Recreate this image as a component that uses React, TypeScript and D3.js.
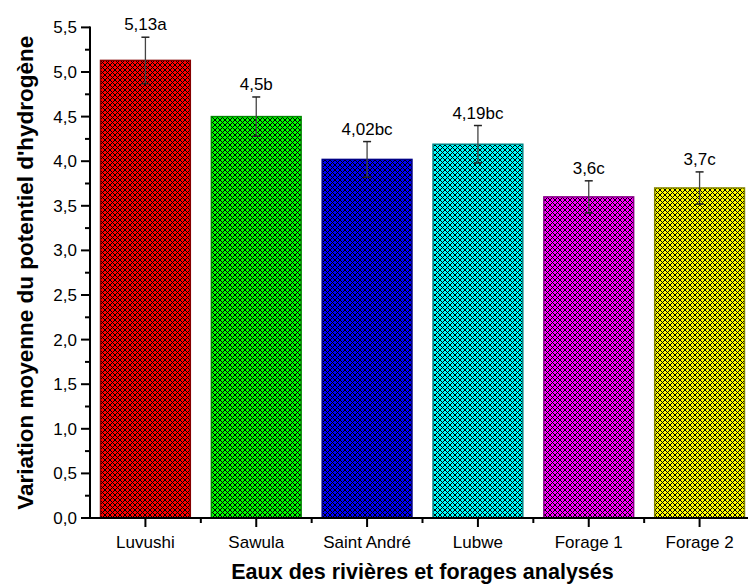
import React from 'react';
import * as d3 from 'd3';

// Mean pH per water source, with standard error and significance letters
const categories = ['Luvushi', 'Sawula', 'Saint André', 'Lubwe', 'Forage 1', 'Forage 2'];
const means = [5.13, 4.5, 4.02, 4.19, 3.6, 3.7];
const errors = [0.26, 0.22, 0.2, 0.21, 0.18, 0.18];
const letters = ['a', 'b', 'bc', 'bc', 'c', 'c'];
const colors = ['#ff0000', '#00ff00', '#0000ff', '#00ffff', '#ff00ff', '#ffff00'];
const yTicks = [0, 0.5, 1, 1.5, 2, 2.5, 3, 3.5, 4, 4.5, 5, 5.5];

const W = 748;
const H = 585;
const FONT = "'Liberation Sans', Arial, Helvetica, sans-serif";

const plot = { left: 90, right: 755, top: 27.4, bottom: 518 };

const comma = (v: number) => String(v).replace('.', ',');

// pixel cells of a diagonal cross-hatch tile
const TILE = 5;
const hatchCells = d3.range(TILE).flatMap((i) =>
  i === TILE - 1 - i ? [[i, i]] : [[i, i], [i, TILE - 1 - i]]
);

export default function App() {
  const x = d3
    .scaleBand<string>()
    .domain(categories)
    .range([plot.left, plot.right])
    .paddingInner(0.19)
    .paddingOuter(0.095);
  const y = d3.scaleLinear().domain([0, 5.5]).range([plot.bottom, plot.top]);

  const minorY = d3.range(0.25, 5.5, 0.5);
  const step = x.step();
  const boundaries = d3.range(categories.length + 1).map((i) => plot.left + i * step);

  return (
    <svg
      width={W}
      height={H}
      viewBox={`0 0 ${W} ${H}`}
      style={{ position: 'absolute', left: 0, top: 0, background: '#fff' }}
      fontFamily={FONT}
    >
      <defs>
        {colors.map((c, i) => (
          <pattern
            key={i}
            id={`hatch-${i}`}
            patternUnits="userSpaceOnUse"
            x={0}
            y={0}
            width={TILE}
            height={TILE}
          >
            <rect width={TILE} height={TILE} fill={c} />
            {hatchCells.map(([cx, cy], k) => (
              <rect key={k} x={cx} y={cy} width={1} height={1} fill="#000" shapeRendering="crispEdges" />
            ))}
          </pattern>
        ))}
      </defs>

      {/* bars */}
      {categories.map((cat, i) => {
        const x0 = x(cat)!;
        return (
          <rect
            key={cat}
            x={x0}
            y={y(means[i])}
            width={x.bandwidth()}
            height={y(0) - y(means[i])}
            fill={`url(#hatch-${i})`}
            stroke={d3.color(colors[i])!.darker(1.8).formatHex()}
            strokeWidth={1.5}
          />
        );
      })}

      {/* error bars and value labels */}
      {categories.map((cat, i) => {
        const cx = x(cat)! + x.bandwidth() / 2;
        const top = y(means[i] + errors[i]);
        const bot = y(means[i] - errors[i]);
        return (
          <g key={cat}>
            <line x1={cx} x2={cx} y1={top} y2={bot} stroke="#444" strokeWidth={1.3} />
            <line x1={cx - 4} x2={cx + 4} y1={top} y2={top} stroke="#222" strokeWidth={1.5} />
            <line x1={cx - 4} x2={cx + 4} y1={bot} y2={bot} stroke="#222" strokeWidth={1.5} />
            <text x={cx} y={top - 7} textAnchor="middle" fontSize={17} fill="#000">
              {comma(means[i]) + letters[i]}
            </text>
          </g>
        );
      })}

      {/* y axis */}
      <line x1={plot.left} x2={plot.left} y1={plot.top - 1} y2={plot.bottom + 1} stroke="#000" strokeWidth={2} />
      {yTicks.map((t) => (
        <g key={t}>
          <line x1={plot.left - 9} x2={plot.left} y1={y(t)} y2={y(t)} stroke="#000" strokeWidth={2} />
          <text x={plot.left - 13} y={y(t) + 6} textAnchor="end" fontSize={17} fill="#000">
            {d3.format('.1f')(t).replace('.', ',')}
          </text>
        </g>
      ))}
      {minorY.map((t) => (
        <line key={t} x1={plot.left - 5} x2={plot.left} y1={y(t)} y2={y(t)} stroke="#000" strokeWidth={2} />
      ))}

      {/* x axis */}
      <line x1={plot.left - 1} x2={plot.right} y1={plot.bottom} y2={plot.bottom} stroke="#000" strokeWidth={2} />
      {categories.map((cat) => {
        const cx = x(cat)! + x.bandwidth() / 2;
        return (
          <g key={cat}>
            <line x1={cx} x2={cx} y1={plot.bottom} y2={plot.bottom + 9} stroke="#000" strokeWidth={2} />
            <text x={cx} y={plot.bottom + 30} textAnchor="middle" fontSize={17} fill="#000">
              {cat}
            </text>
          </g>
        );
      })}
      {boundaries.slice(1).map((bx, i) => (
        <line key={i} x1={bx} x2={bx} y1={plot.bottom} y2={plot.bottom + 5} stroke="#000" strokeWidth={2} />
      ))}

      {/* axis titles */}
      <text
        x={(plot.left + plot.right) / 2}
        y={579}
        textAnchor="middle"
        fontSize={21.5}
        fontWeight="bold"
        fill="#000"
      >
        Eaux des rivières et forages analysés
      </text>
      <text
        transform={`translate(33,${(plot.top + plot.bottom) / 2}) rotate(-90)`}
        textAnchor="middle"
        fontSize={22.5}
        fontWeight="bold"
        fill="#000"
      >
        Variation moyenne du potentiel d'hydrogène
      </text>
    </svg>
  );
}
